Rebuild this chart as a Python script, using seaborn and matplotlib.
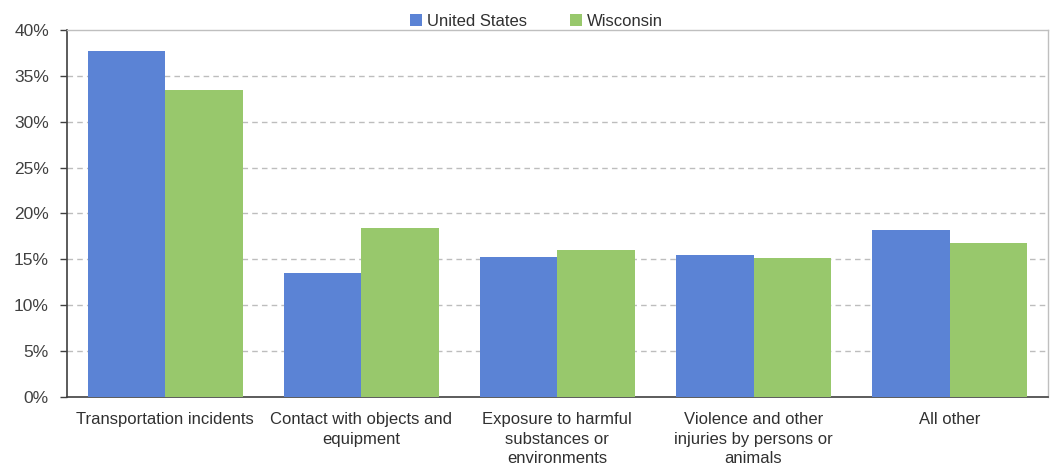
import matplotlib
matplotlib.use("Agg")
import matplotlib.pyplot as plt
import seaborn as sns
import pandas as pd
from matplotlib.ticker import FuncFormatter, MultipleLocator

categories = [
    "Transportation incidents",
    "Contact with objects and\nequipment",
    "Exposure to harmful\nsubstances or\nenvironments",
    "Violence and other\ninjuries by persons or\nanimals",
    "All other",
]
united_states = [37.7, 13.5, 15.3, 15.5, 18.2]
wisconsin = [33.5, 18.4, 16.0, 15.2, 16.8]
series_names = ["United States", "Wisconsin"]
colors = ["#5B83D5", "#98C86C"]

df = pd.DataFrame({
    "category": categories * 2,
    "share": united_states + wisconsin,
    "region": [series_names[0]] * len(categories) + [series_names[1]] * len(categories),
})

sns.set_theme(style="white")
plt.rcParams["font.family"] = ["Liberation Sans", "DejaVu Sans"]

fig = plt.figure(figsize=(10.53, 4.68), dpi=100)
ax = fig.add_axes([0.0636, 0.1517, 0.9314, 0.7843])

sns.barplot(data=df, x="category", y="share", hue="region", palette=colors,
            width=0.79, saturation=1, linewidth=0, ax=ax, zorder=3, legend=True)

ax.set_ylim(0, 40)
ax.set_xlim(-0.5, len(categories) - 0.5)
ax.yaxis.set_major_locator(MultipleLocator(5))
ax.yaxis.set_major_formatter(FuncFormatter(lambda v, _: f"{v:.0f}%"))
ax.set_xlabel("")
ax.set_ylabel("")

for y in range(5, 40, 5):
    ax.axhline(y, color="#BDBDBD", lw=1, ls=(0, (4, 3)), zorder=1)

for side in ["top", "right"]:
    ax.spines[side].set_color("#BFBFBF")
    ax.spines[side].set_linewidth(1)
for side in ["left", "bottom"]:
    ax.spines[side].set_color("#404040")
    ax.spines[side].set_linewidth(1.2)

ax.tick_params(axis="y", left=True, length=5, width=1, color="#404040",
               labelsize=12.5, labelcolor="#404040", pad=8)
ax.tick_params(axis="x", bottom=False, labelsize=12, labelcolor="#303030", pad=5)
for lbl in ax.get_xticklabels():
    lbl.set_linespacing(1.38)

handles, labels = ax.get_legend_handles_labels()
ax.legend(handles, labels, loc="lower center", bbox_to_anchor=(0.479, 0.985),
          ncol=2, frameon=False, fontsize=12, handlelength=0.7, handleheight=0.7,
          handletextpad=0.3, columnspacing=2.6, labelcolor="#303030",
          borderaxespad=0)

fig.savefig("out.png", dpi=100)
